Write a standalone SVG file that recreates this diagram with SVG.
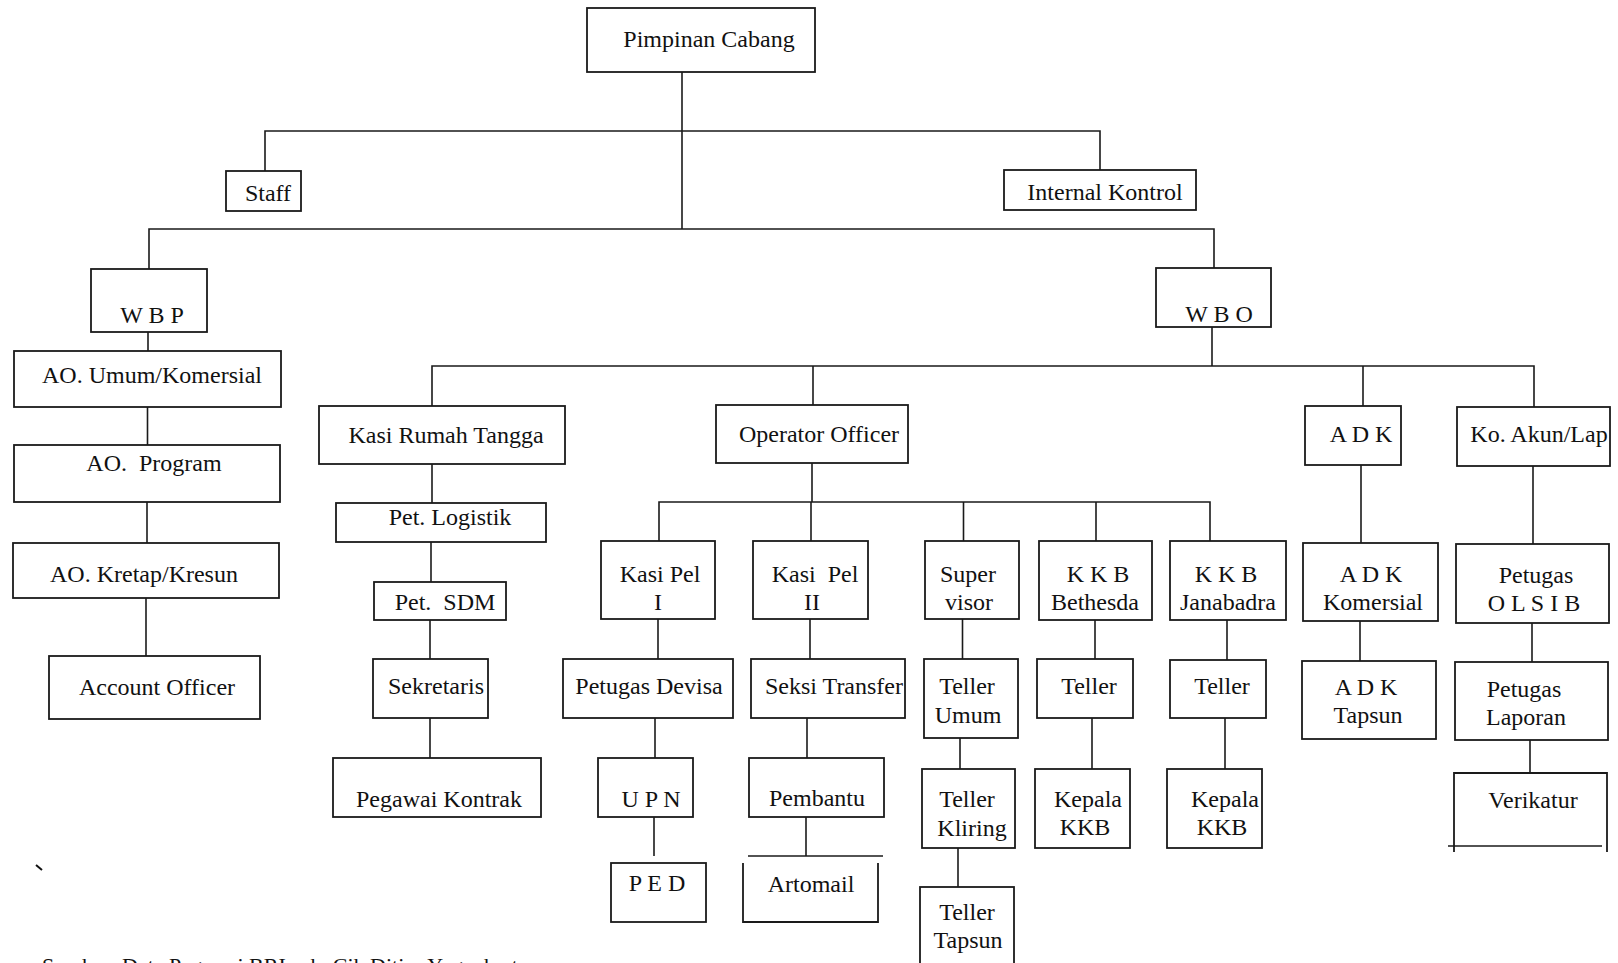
<svg xmlns="http://www.w3.org/2000/svg" width="1618" height="963" viewBox="0 0 1618 963">
<style>
.box{fill:#fff;stroke:#1a1a1a;stroke-width:1.8}
.ln{fill:none;stroke:#1a1a1a;stroke-width:1.6}
.t{font-family:"Liberation Serif","Times New Roman",serif;font-size:24px;text-anchor:middle;fill:#111;white-space:pre}
.cap{font-family:"Liberation Serif","Times New Roman",serif;font-size:22px;fill:#111}
</style>
<rect width="1618" height="963" fill="#fff"/>
<g id="connectors" class="ln">
<path d="M682 72V229"/>
<path d="M265 171V131H1100V170"/>
<path d="M149 269V229H1214V268"/>
<path d="M148 332V351"/>
<path d="M147.5 407V445"/>
<path d="M147 502V543"/>
<path d="M146 598V656"/>
<path d="M1212 327V366"/>
<path d="M432 406V366H1534V407"/>
<path d="M813 366V405"/>
<path d="M1363 366V406"/>
<path d="M432 464V503"/>
<path d="M431 542V582"/>
<path d="M430 620V659"/>
<path d="M430 718V758"/>
<path d="M812 463V502"/>
<path d="M659 541V502H1210V541"/>
<path d="M811 502V541"/>
<path d="M963.5 502V541"/>
<path d="M1096 502V541"/>
<path d="M658 619V659"/>
<path d="M655 718V758"/>
<path d="M654 817V856"/>
<path d="M810 619V659"/>
<path d="M807 718V758"/>
<path d="M806 817V856"/>
<path d="M962.5 619V659"/>
<path d="M960 738V778"/>
<path d="M958 848V894"/>
<path d="M1095 620V659"/>
<path d="M1092 712V771"/>
<path d="M1227 620V660"/>
<path d="M1225 718V772"/>
<path d="M1361 465V543"/>
<path d="M1360 621V661"/>
<path d="M1533 466V544"/>
<path d="M1532 623V662"/>
<path d="M1530 740V773"/>
</g>
<g id="pimpinan"><rect class="box" x="587" y="8" width="228" height="64"/><text class="t" x="709" y="47">Pimpinan Cabang</text></g>
<g id="staff"><rect class="box" x="226" y="171" width="75" height="40"/><text class="t" x="268" y="201">Staff</text></g>
<g id="internal-kontrol"><rect class="box" x="1004" y="170" width="192" height="40"/><text class="t" x="1105" y="200">Internal Kontrol</text></g>
<g id="wbp"><rect class="box" x="91" y="269" width="116" height="63"/><text class="t" x="152" y="323">W B P</text></g>
<g id="wbo"><rect class="box" x="1156" y="268" width="115" height="59"/><text class="t" x="1219" y="322">W B O</text></g>
<g id="ao-umum"><rect class="box" x="14" y="351" width="267" height="56"/><text class="t" x="152" y="383">AO. Umum/Komersial</text></g>
<g id="ao-program"><rect class="box" x="14" y="445" width="266" height="57"/><text class="t" x="154" y="471">AO.  Program</text></g>
<g id="ao-kretap"><rect class="box" x="13" y="543" width="266" height="55"/><text class="t" x="144" y="582">AO. Kretap/Kresun</text></g>
<g id="account-officer"><rect class="box" x="49" y="656" width="211" height="63"/><text class="t" x="157" y="695">Account Officer</text></g>
<g id="kasi-rumah-tangga"><rect class="box" x="319" y="406" width="246" height="58"/><text class="t" x="446" y="443">Kasi Rumah Tangga</text></g>
<g id="pet-logistik"><rect class="box" x="336" y="503" width="210" height="39"/><text class="t" x="450" y="525">Pet. Logistik</text></g>
<g id="pet-sdm"><rect class="box" x="374" y="582" width="132" height="38"/><text class="t" x="445" y="610">Pet.  SDM</text></g>
<g id="sekretaris"><rect class="box" x="373" y="659" width="115" height="59"/><text class="t" x="436" y="694">Sekretaris</text></g>
<g id="pegawai-kontrak"><rect class="box" x="333" y="758" width="208" height="59"/><text class="t" x="439" y="807">Pegawai Kontrak</text></g>
<g id="operator-officer"><rect class="box" x="716" y="405" width="192" height="58"/><text class="t" x="819" y="442">Operator Officer</text></g>
<g id="kasi-pel-1"><rect class="box" x="601" y="541" width="114" height="78"/><text class="t" x="660" y="582">Kasi Pel</text><text class="t" x="658" y="610">I</text></g>
<g id="kasi-pel-2"><rect class="box" x="753" y="541" width="115" height="78"/><text class="t" x="815" y="582">Kasi  Pel</text><text class="t" x="812" y="610">II</text></g>
<g id="supervisor"><rect class="box" x="925" y="541" width="94" height="78"/><text class="t" x="968" y="582">Super</text><text class="t" x="969" y="610">visor</text></g>
<g id="kkb-bethesda"><rect class="box" x="1039" y="541" width="113" height="79"/><text class="t" x="1098" y="582">K K B</text><text class="t" x="1095" y="610">Bethesda</text></g>
<g id="kkb-janabadra"><rect class="box" x="1170" y="541" width="116" height="79"/><text class="t" x="1226" y="582">K K B</text><text class="t" x="1228" y="610">Janabadra</text></g>
<g id="adk"><rect class="box" x="1305" y="406" width="96" height="59"/><text class="t" x="1361" y="442">A D K</text></g>
<g id="ko-akun-lap"><rect class="box" x="1457" y="407" width="153" height="59"/><text class="t" x="1539" y="442">Ko. Akun/Lap</text></g>
<g id="petugas-devisa"><rect class="box" x="563" y="659" width="170" height="59"/><text class="t" x="649" y="694">Petugas Devisa</text></g>
<g id="seksi-transfer"><rect class="box" x="751" y="659" width="154" height="59"/><text class="t" x="834" y="694">Seksi Transfer</text></g>
<g id="teller-umum"><rect class="box" x="924" y="659" width="94" height="79"/><text class="t" x="967" y="694">Teller</text><text class="t" x="968" y="723">Umum</text></g>
<g id="teller-bethesda"><rect class="box" x="1037" y="659" width="96" height="59"/><text class="t" x="1089" y="694">Teller</text></g>
<g id="teller-janabadra"><rect class="box" x="1170" y="660" width="96" height="58"/><text class="t" x="1222" y="694">Teller</text></g>
<g id="adk-komersial"><rect class="box" x="1303" y="543" width="135" height="78"/><text class="t" x="1371" y="582">A D K</text><text class="t" x="1373" y="610">Komersial</text></g>
<g id="petugas-olsib"><rect class="box" x="1456" y="544" width="153" height="79"/><text class="t" x="1536" y="583">Petugas</text><text class="t" x="1534" y="611">O L S I B</text></g>
<g id="upn"><rect class="box" x="598" y="758" width="95" height="59"/><text class="t" x="651" y="807">U P N</text></g>
<g id="pembantu"><rect class="box" x="749" y="758" width="135" height="59"/><text class="t" x="817" y="806">Pembantu</text></g>
<g id="teller-kliring"><rect class="box" x="922" y="769" width="93" height="79"/><text class="t" x="967" y="807">Teller</text><text class="t" x="972" y="836">Kliring</text></g>
<g id="kepala-kkb-bethesda"><rect class="box" x="1035" y="769" width="95" height="79"/><text class="t" x="1088" y="807">Kepala</text><text class="t" x="1085" y="835">KKB</text></g>
<g id="kepala-kkb-janabadra"><rect class="box" x="1167" y="769" width="95" height="79"/><text class="t" x="1225" y="807">Kepala</text><text class="t" x="1222" y="835">KKB</text></g>
<g id="adk-tapsun"><rect class="box" x="1302" y="661" width="134" height="78"/><text class="t" x="1366" y="695">A D K</text><text class="t" x="1368" y="723">Tapsun</text></g>
<g id="petugas-laporan"><rect class="box" x="1455" y="662" width="153" height="78"/><text class="t" x="1524" y="697">Petugas</text><text class="t" x="1526" y="725">Laporan</text></g>
<g id="verikatur"><path class="box" d="M1454 852V773H1607V852"/><path class="ln" d="M1448 846H1602"/><text class="t" x="1533" y="808">Verikatur</text></g>
<g id="ped"><rect class="box" x="611" y="863" width="95" height="59"/><text class="t" x="657" y="891">P E D</text></g>
<g id="artomail"><path class="box" d="M743 863V922H878V863"/><path class="ln" d="M748 856H883"/><text class="t" x="811" y="892">Artomail</text></g>
<g id="teller-tapsun"><rect class="box" x="920" y="887" width="94" height="90"/><text class="t" x="967" y="920">Teller</text><text class="t" x="968" y="948">Tapsun</text></g>
<path d="M36 865L42 870" stroke="#111" stroke-width="2"/>
<text class="cap" x="42" y="973">Sumber: Data Pegawai BRI cab. Cik Ditiro Yogyakarta</text>
</svg>
